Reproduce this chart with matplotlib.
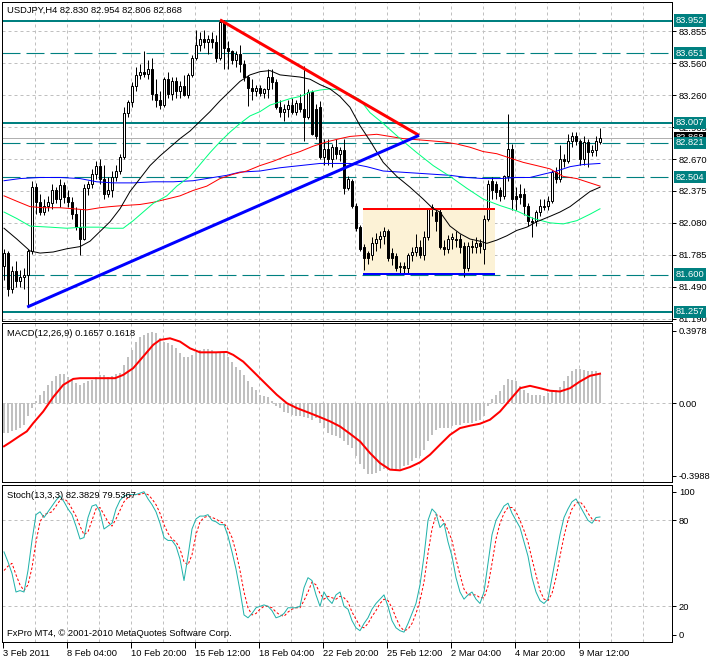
import matplotlib
matplotlib.use("Agg")
import matplotlib.pyplot as plt
import numpy as np

plt.rcParams['font.family'] = ['Liberation Sans', 'DejaVu Sans']
plt.rcParams['lines.scale_dashes'] = False

# ---------------- DATA ----------------
symbol_header = "USDJPY,H4 82.830 82.954 82.806 82.868"
macd_header = "MACD(12,26,9) 0.1657 0.1618"
stoch_header = "Stoch(13,3,3) 82.3829 79.5367"
copyright_text = "FxPro MT4, \u00a9 2001-2010 MetaQuotes Software Corp."

open_ = [81.68,81.80,81.47,81.63,81.54,81.58,81.60,81.82,82.41,82.27,
         82.18,82.24,82.26,82.38,82.30,82.43,82.32,82.27,82.16,82.04,
         81.93,82.40,82.44,82.53,82.61,82.49,82.35,82.38,82.50,82.56,
         82.69,83.10,83.20,83.35,83.45,83.48,83.46,83.50,83.27,83.22,
         83.17,83.41,83.27,83.39,83.30,83.35,83.26,83.45,83.61,83.73,
         83.78,83.75,83.78,83.75,83.61,83.94,83.70,83.67,83.59,83.64,
         83.55,83.43,83.33,83.30,83.33,83.28,83.32,83.43,83.38,83.15,
         83.11,83.13,83.17,83.11,83.19,83.13,83.06,83.29,83.13,83.15,
         82.69,82.76,82.67,82.78,82.72,82.75,82.40,82.47,82.24,82.04,
         81.86,81.80,81.78,81.89,81.93,81.96,82.00,81.80,81.77,81.68,
         81.68,81.66,81.78,81.81,81.86,81.78,81.95,82.21,82.18,82.18,
         81.86,81.84,81.93,81.93,81.93,81.87,81.66,81.87,81.86,81.89,
         81.84,82.12,82.47,82.44,82.38,82.33,82.51,82.76,82.33,82.35,
         82.35,82.24,82.10,82.10,82.18,82.24,82.24,82.28,82.55,82.49,
         82.67,82.65,82.84,82.88,82.84,82.67,82.83,82.74,82.75,82.830]
high = [81.84,81.82,81.68,81.73,81.64,81.66,81.84,82.47,82.45,82.35,
        82.30,82.33,82.44,82.41,82.49,82.46,82.38,82.32,82.23,82.21,
        82.44,82.47,82.58,82.65,82.67,82.62,82.50,82.56,82.62,82.72,
        83.15,83.22,83.38,83.52,83.55,83.67,83.59,83.61,83.41,83.30,
        83.43,83.48,83.43,83.43,83.39,83.45,83.47,83.63,83.87,83.85,
        83.87,83.82,83.85,83.82,83.96,83.96,83.76,83.68,83.67,83.73,
        83.59,83.45,83.41,83.36,83.36,83.33,83.50,83.50,83.41,83.22,
        83.18,83.22,83.24,83.22,83.27,83.53,83.32,83.31,83.18,83.21,
        82.86,82.86,82.81,82.86,82.78,82.86,82.51,82.49,82.26,82.06,
        81.88,81.82,81.95,81.99,82.00,82.04,82.02,81.85,81.80,81.72,
        81.72,81.80,81.86,81.98,81.92,82.00,82.22,82.25,82.22,82.21,
        81.92,81.97,81.99,82.00,81.98,81.90,81.90,81.92,81.95,81.93,
        82.15,82.48,82.50,82.47,82.41,82.52,83.09,82.81,82.41,82.44,
        82.40,82.26,82.13,82.20,82.30,82.30,82.33,82.57,82.60,82.80,
        82.72,82.90,82.92,82.92,82.86,82.88,82.86,82.80,82.88,82.954]
low = [81.55,81.40,81.43,81.49,81.49,81.47,81.31,81.79,82.16,82.15,
       82.15,82.19,82.21,82.26,82.23,82.26,82.23,82.12,82.01,81.78,
       81.92,82.34,82.40,82.49,82.44,82.30,82.32,82.32,82.47,82.53,
       82.67,83.06,83.15,83.30,83.41,83.43,83.41,83.22,83.15,83.13,
       83.15,83.24,83.22,83.24,83.24,83.25,83.24,83.43,83.59,83.67,
       83.70,83.64,83.70,83.57,83.59,83.50,83.50,83.55,83.52,83.48,
       83.39,83.16,83.22,83.25,83.25,83.24,83.24,83.32,83.13,83.06,
       83.02,83.06,83.09,83.08,83.11,82.84,83.04,82.89,82.86,82.67,
       82.62,82.62,82.60,82.67,82.65,82.35,82.38,82.22,82.00,81.82,
       81.64,81.70,81.74,81.82,81.85,81.88,81.73,81.69,81.63,81.62,
       81.61,81.62,81.73,81.77,81.75,81.74,81.92,82.14,82.00,81.84,
       81.78,81.80,81.84,81.86,81.80,81.58,81.63,81.80,81.80,81.80,
       81.70,82.10,82.30,82.30,82.28,82.30,82.47,82.20,82.20,82.25,
       82.15,82.05,81.95,82.05,82.14,82.20,82.20,82.26,82.45,82.46,
       82.60,82.63,82.78,82.80,82.62,82.62,82.60,82.70,82.70,82.806]
close = [81.80,81.47,81.63,81.54,81.58,81.60,81.82,82.41,82.27,82.18,
         82.24,82.27,82.38,82.30,82.43,82.32,82.27,82.16,82.04,81.93,
         82.40,82.44,82.53,82.61,82.49,82.35,82.38,82.50,82.56,82.69,
         83.10,83.20,83.35,83.45,83.48,83.46,83.50,83.27,83.22,83.17,
         83.41,83.27,83.39,83.30,83.35,83.26,83.45,83.61,83.73,83.78,
         83.75,83.78,83.75,83.61,83.94,83.70,83.67,83.59,83.64,83.55,
         83.43,83.33,83.30,83.33,83.28,83.32,83.43,83.38,83.15,83.11,
         83.13,83.17,83.11,83.19,83.13,83.06,83.29,82.90,82.88,82.69,
         82.76,82.67,82.78,82.72,82.75,82.40,82.49,82.24,82.03,81.84,
         81.75,81.75,81.89,81.93,81.96,82.00,81.75,81.75,81.66,81.67,
         81.66,81.78,81.81,81.86,81.78,81.95,82.21,82.23,82.10,81.86,
         81.84,81.93,81.95,81.92,81.86,81.66,81.87,81.86,81.89,81.87,
         82.12,82.44,82.38,82.37,82.33,82.51,82.76,82.30,82.30,82.32,
         82.24,82.10,82.09,82.18,82.24,82.23,82.28,82.55,82.49,82.67,
         82.65,82.84,82.88,82.84,82.67,82.83,82.74,82.75,82.84,82.868]

# moving averages (bar position, price)
ma_black_x = [0,3.2,6.5,9,12.3,15.7,19,21.5,24,26.5,29,31.5,34,36.5,39,41.5,44,46.5,49,51.5,
              54,56.5,59,61.5,64,66.5,69,71.5,74,76.5,79,81.5,84,86.5,89,91.5,94.8,98.2,101.5,104.8,
              107.3,109,111.5,114,116.5,119,120.7,123.2,125.7,128.2,130.7,133.2,136.5,139,141.5,144,146.5,149]
ma_black_y = [82.03,81.93,81.82,81.80,81.81,81.84,81.86,81.91,82.00,82.09,82.21,82.37,82.49,82.61,82.70,82.78,82.86,82.93,83.02,83.11,
              83.21,83.30,83.39,83.45,83.48,83.49,83.45,83.44,83.43,83.41,83.36,83.32,83.25,83.15,82.98,82.84,82.64,82.51,82.41,82.30,
              82.21,82.18,82.05,81.98,81.93,81.91,81.89,81.92,81.96,82.01,82.04,82.09,82.14,82.18,82.23,82.30,82.37,82.41]
ma_green_x = [0,3.2,6.5,11.5,15.7,19.8,24,26.5,29.8,32.3,34.8,37.3,40.7,43.2,46.5,49,51.5,54,56.5,59,
              61.5,64,66.5,69,71.5,74,76.5,79,81.5,84,86.5,89,91.5,94.8,99,103.2,107.3,111.5,115.7,119.8,
              124,128.2,132.3,136.5,139.8,143.2,146.5,149]
ma_green_y = [82.18,82.12,82.05,82.04,82.03,82.04,82.04,82.03,82.03,82.10,82.18,82.26,82.33,82.42,82.51,82.62,82.73,82.83,82.92,83.00,
              83.07,83.11,83.17,83.20,83.23,83.25,83.29,83.31,83.32,83.31,83.27,83.22,83.10,83.00,82.86,82.73,82.61,82.51,82.40,82.30,
              82.24,82.19,82.12,82.08,82.07,82.10,82.16,82.21]
ma_red_x = [0,3.2,6.5,9.8,14,17.3,20.7,24,26.5,29.8,34,37.3,40.7,44,47.3,50.7,54,57.3,60.7,64,
            67.3,70.7,74,77.3,80.7,84,86.5,89.8,93.2,96.5,99.8,103.2,106.5,109.8,113.2,116.5,119.8,123.2,126.5,129.8,
            133.2,136.5,139.8,143.2,146.5,149]
ma_red_y = [82.33,82.28,82.23,82.22,82.22,82.21,82.20,82.22,82.23,82.24,82.25,82.27,82.30,82.33,82.38,82.42,82.49,82.53,82.56,82.61,
            82.65,82.70,82.74,82.79,82.83,82.86,82.88,82.89,82.90,82.88,82.86,82.85,82.84,82.83,82.81,82.78,82.74,82.72,82.68,82.64,
            82.61,82.58,82.51,82.49,82.45,82.42]
ma_blue_x = [0,4,9,14,19,23.2,27.3,32.3,37.3,42.3,47.3,52.3,55.7,59,64,69,74,79,84,86.5,
             90.7,94.8,99,103.2,107.3,111.5,115.7,119.8,124,128.2,131.5,134.8,138.2,141.5,144.8,149]
ma_blue_y = [82.47,82.49,82.50,82.50,82.49,82.46,82.45,82.45,82.46,82.46,82.47,82.50,82.52,82.55,82.56,82.59,82.61,82.63,82.63,82.63,
             82.60,82.56,82.55,82.54,82.53,82.52,82.50,82.49,82.49,82.50,82.50,82.53,82.56,82.60,82.62,82.63]

# drawn objects
red_trend_x, red_trend_y = [54, 103.75], [83.96, 82.89]
blue_trend_x, blue_trend_y = [5.8, 103.75], [81.30, 82.89]
box_x = [89.75, 122.75]
box_top, box_bottom = 82.21, 81.61
solid_levels = [83.952, 83.007, 81.257]
dashed_levels = [83.651, 82.821, 82.504, 81.600]
bid_price = 82.868
price_ticks = [83.855, 83.560, 83.260, 82.965, 82.670, 82.375, 82.080, 81.785, 81.490, 81.190]

macd_hist = [-0.164,-0.164,-0.155,-0.146,-0.137,-0.119,-0.073,-0.027,0.009,0.046,
             0.068,0.100,0.124,0.150,0.159,0.159,0.146,0.128,0.110,0.101,
             0.110,0.119,0.128,0.146,0.152,0.152,0.146,0.150,0.159,0.168,
             0.210,0.256,0.292,0.338,0.365,0.374,0.384,0.389,0.384,0.356,
             0.338,0.329,0.320,0.301,0.274,0.256,0.256,0.265,0.283,0.292,
             0.296,0.296,0.292,0.283,0.274,0.283,0.256,0.228,0.201,0.183,
             0.155,0.119,0.091,0.073,0.046,0.040,0.033,0.009,-0.018,-0.027,
             -0.046,-0.055,-0.064,-0.073,-0.073,-0.077,-0.082,-0.091,-0.082,-0.110,
             -0.137,-0.164,-0.174,-0.179,-0.192,-0.210,-0.228,-0.247,-0.292,-0.332,
             -0.362,-0.387,-0.387,-0.384,-0.374,-0.362,-0.365,-0.365,-0.362,-0.362,
             -0.347,-0.338,-0.320,-0.301,-0.292,-0.256,-0.210,-0.174,-0.146,-0.137,
             -0.137,-0.137,-0.124,-0.119,-0.119,-0.110,-0.110,-0.110,-0.100,-0.091,
             -0.073,-0.018,0.022,0.046,0.069,0.100,0.133,0.128,0.119,0.095,
             0.073,0.055,0.046,0.046,0.046,0.040,0.055,0.064,0.073,0.091,
             0.119,0.150,0.174,0.186,0.186,0.183,0.174,0.174,0.179,0.1657]
macd_sig_x = [0,1.5,4,5.7,7.3,9.8,12.3,14.8,17.3,19,24,27.75,29.8,32.3,34.8,37.3,39,41.5,44,46.5,
              49,53,55.7,57.3,59.8,62.3,65.7,68.2,70.7,73.2,76.5,79,81.5,84,86.5,89,91.5,94,96.5,99,
              101.5,104,106.5,109,111.5,114,116.5,119,121.5,124,126.5,129,131.5,134,136.5,139,141.5,144,146.5,149]
macd_sig_y = [-0.237,-0.216,-0.179,-0.155,-0.110,-0.046,0.033,0.100,0.133,0.137,0.137,0.137,0.155,0.192,0.256,0.320,0.347,0.356,0.338,0.301,
              0.279,0.279,0.281,0.265,0.228,0.174,0.100,0.046,0.000,-0.027,-0.055,-0.077,-0.100,-0.128,-0.168,-0.210,-0.274,-0.329,-0.365,-0.369,
              -0.351,-0.325,-0.283,-0.228,-0.174,-0.137,-0.124,-0.113,-0.091,-0.046,0.018,0.082,0.095,0.082,0.068,0.064,0.082,0.119,0.150,0.1618]

stoch_main = [58,51,43,30,31,30,45,66,84,86,82,86,90,94,97,93,88,84,76,67,
              68,82,90,91,86,74,76,78,88,94,97,98,98,98,99,100,95,91,86,78,
              68,66,66,62,53,38,55,74,81,83,83,84,80,79,77,77,69,58,46,31,
              14,12,15,19,20,21,20,17,12,13,15,19,19,19,20,33,40,38,28,20,
              30,25,22,28,30,20,18,10,5,3,8,12,18,22,25,28,20,10,5,3,
              2,8,15,22,35,55,80,88,85,75,78,65,55,40,30,25,28,30,25,22,
              30,50,70,80,85,90,92,85,80,75,65,55,40,30,24,22,25,40,55,70,
              82,88,93,95,90,85,80,78,82,82.38]
stoch_signal = [45,48,50,42,35,31,35,47,65,79,84,85,86,90,94,95,93,88,83,76,
                70,72,80,88,89,84,79,76,81,87,93,96,98,98,98,99,98,95,91,85,
                77,71,67,65,60,51,49,56,70,79,82,83,82,81,79,78,74,68,58,45,
                30,19,14,15,18,20,20,19,16,14,13,16,18,19,19,24,30,37,35,29,
                25,27,26,25,27,26,23,16,11,6,5,8,13,17,22,25,24,19,12,6,
                3,4,8,15,24,37,57,74,84,83,79,73,66,53,42,32,28,28,28,26,
                26,34,50,67,78,85,89,89,86,80,73,65,53,42,31,25,24,29,40,55,
                69,80,88,92,93,90,85,81,80,79.54]

x_tick_pos = [-0.25, 15.75, 31.75, 47.75, 63.75, 79.75, 95.75, 111.75, 127.75, 143.75]
x_tick_labels = ['3 Feb 2011', '8 Feb 04:00', '10 Feb 20:00', '15 Feb 12:00', '18 Feb 04:00',
                 '22 Feb 20:00', '25 Feb 12:00', '2 Mar 04:00', '4 Mar 20:00', '9 Mar 12:00']

# ---------------- STYLE ----------------
W, H = 710, 659
PX = 72 / 100.0  # points per pixel
FS = 6.75
TEAL = '#008080'
GRID = '#C0C0C0'

fig = plt.figure(figsize=(W / 100, H / 100), dpi=100)
fig.patch.set_facecolor('white')


def panel(top, bottom, ylim):
    ax = fig.add_axes([2 / W, 1 - bottom / H, 670 / W, (bottom - top) / H])
    ax.set_xlim(-0.5, 167)
    ax.set_ylim(*ylim)
    for s in ax.spines.values():
        s.set_linewidth(1 * PX)
        s.set_color('black')
    ax.set_xticks([])
    ax.yaxis.tick_right()
    ax.tick_params(axis='y', length=3, width=PX, pad=2, labelsize=FS, colors='black')
    for k in range(1, 21):
        ax.axvline(-0.25 + 8 * k, color=GRID, lw=PX, ls=(0, (3 * PX, 3 * PX)), zorder=0)
    return ax


ax1 = panel(2, 321, (81.171, 84.125))
ax2 = panel(323, 482, (-0.433, 0.440))
ax3 = panel(485, 642, (-4.9, 104.7))

# ---- main panel ----
ax1.set_yticks(price_ticks)
ax1.set_yticklabels(['%.3f' % v for v in price_ticks])
for v in price_ticks:
    ax1.axhline(v, color=GRID, lw=PX, ls=(0, (3 * PX, 3 * PX)), zorder=0)

ax1.fill_between(box_x, box_bottom, box_top, color='#FCF2D6', lw=0, zorder=0.5)
ax1.plot(box_x, [box_top, box_top], color='red', lw=2 * PX, zorder=3, solid_capstyle='butt')
ax1.plot(box_x, [box_bottom, box_bottom], color='blue', lw=2 * PX, zorder=3, solid_capstyle='butt')

for v in solid_levels:
    ax1.axhline(v, color=TEAL, lw=2 * PX, zorder=1)
for v in dashed_levels:
    ax1.axhline(v, color=TEAL, lw=1.1 * PX, ls=(0, (18 * PX, 6 * PX)), zorder=1)
ax1.axhline(bid_price, color='#B0B0B0', lw=PX, zorder=1)

idx = np.arange(len(close))
o = np.array(open_); c = np.array(close); h = np.array(high); l = np.array(low)
ax1.vlines(idx, l, h, color='black', lw=PX, zorder=2)
bull = c >= o
bodies = np.maximum(np.abs(c - o), 0.004)
ax1.bar(idx[bull], bodies[bull], bottom=np.minimum(o, c)[bull], width=0.72,
        color='white', edgecolor='black', linewidth=PX, zorder=2.5)
ax1.bar(idx[~bull], bodies[~bull], bottom=np.minimum(o, c)[~bull], width=0.72,
        color='black', edgecolor='black', linewidth=PX, zorder=2.5)

ax1.plot(ma_blue_x, ma_blue_y, color='#0000FF', lw=PX, zorder=3)
ax1.plot(ma_red_x, ma_red_y, color='#FF0000', lw=PX, zorder=3)
ax1.plot(ma_green_x, ma_green_y, color='#00FF7F', lw=PX, zorder=3)
ax1.plot(ma_black_x, ma_black_y, color='black', lw=PX, zorder=3)
ax1.plot(red_trend_x, red_trend_y, color='#FF0000', lw=3 * PX, zorder=4, solid_capstyle='butt')
ax1.plot(blue_trend_x, blue_trend_y, color='#0000FF', lw=3 * PX, zorder=4, solid_capstyle='butt')

tr = ax1.get_yaxis_transform()
ax1.text(1.0 + 4 / 670, bid_price, '%.3f' % bid_price, transform=tr, ha='left', va='center',
         fontsize=FS, color='white', clip_on=False, zorder=10,
         bbox=dict(boxstyle='square,pad=0.18', fc='black', ec='none'))
for v in solid_levels + dashed_levels:
    ax1.text(1.0 + 4 / 670, v, '%.3f' % v, transform=tr, ha='left', va='center',
             fontsize=FS, color='white', clip_on=False, zorder=11,
             bbox=dict(boxstyle='square,pad=0.18', fc=TEAL, ec='none'))

# ---- MACD ----
ax2.set_yticks([0.3978, 0.0, -0.3988])
ax2.set_yticklabels(['0.3978', '0.00', '-0.3988'])
ax2.axhline(0, color=GRID, lw=PX, ls=(0, (3 * PX, 3 * PX)), zorder=0)
ax2.bar(idx, macd_hist, width=0.6, color='#C0C0C0', lw=0, zorder=1)
ax2.plot(macd_sig_x, macd_sig_y, color='#FF0000', lw=2 * PX, zorder=2)

# ---- Stochastic ----
ax3.set_yticks([100, 80, 20, 0])
ax3.set_yticklabels(['100', '80', '20', '0'])
for v in (80, 20):
    ax3.axhline(v, color=GRID, lw=PX, ls=(0, (3 * PX, 3 * PX)), zorder=0)
ax3.plot(idx, stoch_signal, color='#FF0000', lw=PX, ls=(0, (2.5 * PX, 2 * PX)), zorder=2)
ax3.plot(idx, stoch_main, color='#20B2AA', lw=PX, zorder=3)

ax3.set_xticks(x_tick_pos)
ax3.set_xticklabels(x_tick_labels)
ax3.tick_params(axis='x', length=4, width=PX, pad=1.0, labelsize=FS, direction='out')
for t in ax3.get_xticklabels():
    t.set_ha('left')

# ---- texts ----
def ftext(x, y, s):
    fig.text(x / W, 1 - y / H, s, ha='left', va='center', fontsize=FS, color='black')

ftext(7, 10.5, symbol_header)
ftext(7, 333.5, macd_header)
ftext(7, 495, stoch_header)
ftext(7, 634, copyright_text)

fig.savefig('out.png', dpi=100, facecolor='white')
